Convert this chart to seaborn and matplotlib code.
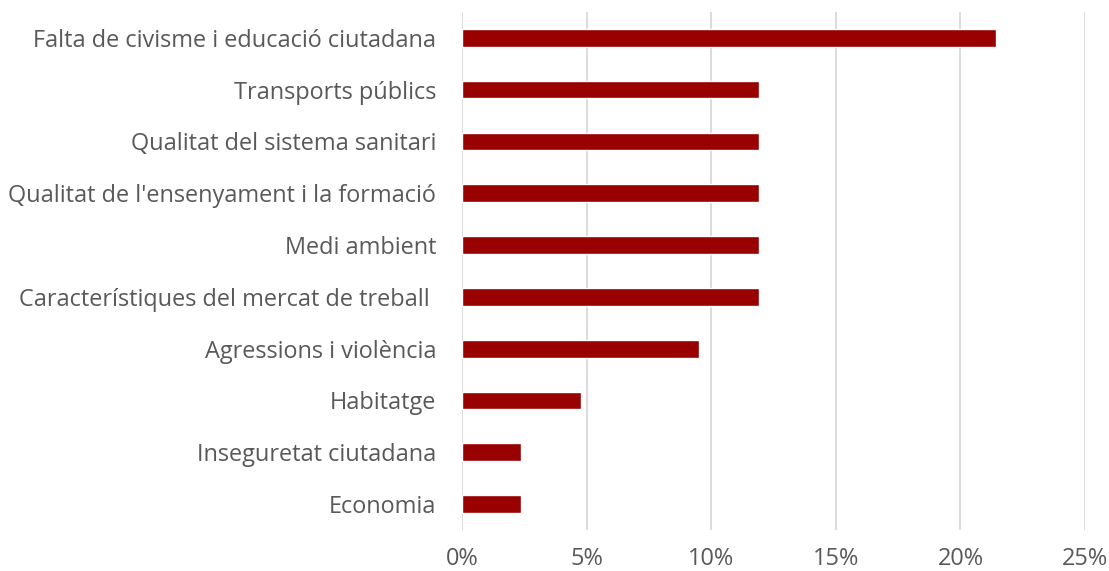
import matplotlib
matplotlib.use("Agg")
import matplotlib.pyplot as plt
import seaborn as sns
import pandas as pd
from matplotlib.ticker import FuncFormatter

categories = [
    "Falta de civisme i educació ciutadana",
    "Transports públics",
    "Qualitat del sistema sanitari",
    "Qualitat de l'ensenyament i la formació",
    "Medi ambient",
    "Característiques del mercat de treball ",
    "Agressions i violència",
    "Habitatge",
    "Inseguretat ciutadana",
    "Economia",
]
values = [21.43, 11.90, 11.90, 11.90, 11.90, 11.90, 9.52, 4.76, 2.38, 2.38]
x_ticks = [0, 5, 10, 15, 20, 25]

df = pd.DataFrame({"category": categories, "value": values})

sns.set_theme(style="white")
plt.rcParams["font.family"] = ["Open Sans", "DejaVu Sans"]

fig = plt.figure(figsize=(11.09, 5.71), dpi=100)
ax = fig.add_axes([0.4166, 0.0718, 0.5618, 0.9072])

sns.barplot(data=df, x="value", y="category", color="#990000",
            saturation=1, width=0.34, ax=ax, zorder=3)

ax.set_xlim(0, 25)
ax.set_ylim(9.5, -0.5)
ax.set_xticks(x_ticks)
ax.xaxis.set_major_formatter(FuncFormatter(lambda v, _: f"{v:.0f}%"))
ax.grid(axis="x", color="#d9d9d9", linewidth=1.3, zorder=0)
ax.grid(axis="y", visible=False)
for s in ax.spines.values():
    s.set_visible(False)
ax.set_xlabel("")
ax.set_ylabel("")
ax.tick_params(axis="both", length=0, colors="#595959", labelsize=16.9)
ax.tick_params(axis="y", pad=18.5)
ax.tick_params(axis="x", pad=12.5)

fig.savefig("out.png", dpi=100)
